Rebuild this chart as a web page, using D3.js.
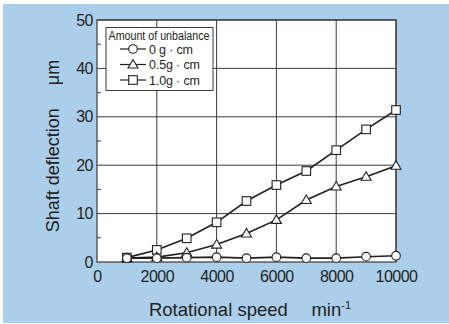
<!DOCTYPE html>
<html><head><meta charset="utf-8">
<script src="https://cdn.jsdelivr.net/npm/d3@7"></script>
<style>body{margin:0;background:#fff}svg{display:block}text{font-family:"Liberation Sans",Arial,sans-serif;fill:#231f20}</style>
</head><body>
<svg id="c" width="449" height="324"></svg>
<script>
const speeds = [1000,2000,3000,4000,5000,6000,7000,8000,9000,10000];
const s0 = [0.8,0.8,0.9,1.0,0.8,1.0,0.8,0.8,1.1,1.3];
const s05 = [0.8,1.0,1.9,3.6,5.9,8.7,12.8,15.6,17.6,19.9];
const s10 = [0.9,2.5,4.9,8.2,12.6,15.9,18.8,23.1,27.4,31.4];
const seriesNames = ["0 g \u00b7 cm","0.5g \u00b7 cm","1.0g \u00b7 cm"];
const seriesShapes = ["circle","triangle","square"];
const xTicks = [0,2000,4000,6000,8000,10000];
const yTicks = [0,10,20,30,40,50];
const yMinor = [5,15,25,35,45];

const svg = d3.select("#c");
svg.append("rect").attr("x",3).attr("y",4).attr("width",446).attr("height",319).attr("fill","#abcfeb");
const L=97,R=396,T=20,B=262;
const x = d3.scaleLinear().domain([0,10000]).range([L,R]);
const y = d3.scaleLinear().domain([0,50]).range([B,T]);
svg.append("rect").attr("x",L).attr("y",T).attr("width",R-L).attr("height",B-T).attr("fill","#fff");
const g = svg.append("g");
g.selectAll(".gx").data(xTicks.slice(1)).join("line").attr("x1",d=>x(d)).attr("x2",d=>x(d)).attr("y1",T).attr("y2",B).attr("stroke","#3a3a3a").attr("stroke-width",1);
g.selectAll(".gy").data(yTicks.slice(1)).join("line").attr("x1",L).attr("x2",R).attr("y1",d=>y(d)).attr("y2",d=>y(d)).attr("stroke","#3a3a3a").attr("stroke-width",1);
g.selectAll(".my").data(yMinor).join("line").attr("x1",L).attr("x2",L+4).attr("y1",d=>y(d)).attr("y2",d=>y(d)).attr("stroke","#3a3a3a");
g.append("rect").attr("x",L).attr("y",T).attr("width",R-L).attr("height",B-T).attr("fill","none").attr("stroke","#3a3a3a").attr("stroke-width",1.2);
const xa = svg.append("g").attr("transform",`translate(0,${B})`).call(d3.axisBottom(x).tickValues(xTicks).tickSize(0).tickPadding(9).tickFormat(d3.format("d")));
xa.select(".domain").remove();
xa.selectAll("text").style("font-size","16px").style("letter-spacing","-0.5px").attr("fill","#231f20");
const ya = svg.append("g").attr("transform",`translate(${L},0)`).call(d3.axisLeft(y).tickValues(yTicks).tickSize(0).tickPadding(4));
ya.select(".domain").remove();
ya.selectAll("text").style("font-size","16px").style("letter-spacing","-0.5px").attr("fill","#231f20");
svg.append("text").attr("x",250).attr("y",316).attr("text-anchor","middle").style("font-size","18.5px")
  .text("Rotational speed\u2003 min").append("tspan").attr("dy",-7).style("font-size","11px").text("-1");
svg.append("text").attr("transform","translate(59,146) rotate(-90)").attr("text-anchor","middle").style("font-size","18px").text("Shaft deflection\u2003 \u03bcm");

const line = d3.line().x((d,i)=>x(speeds[i])).y(d=>y(d));
const all = [s0,s05,s10];
function marker(sel, shape, cx, cy){
  if(shape==="circle") sel.append("circle").attr("cx",cx).attr("cy",cy).attr("r",4.3);
  else if(shape==="square") sel.append("rect").attr("x",cx-4.3).attr("y",cy-4.3).attr("width",8.6).attr("height",8.6);
  else sel.append("path").attr("d",`M${cx},${cy-5}L${cx+5},${cy+3.5}L${cx-5},${cy+3.5}Z`);
}
[2,1,0].forEach(k=>{
  svg.append("path").datum(all[k]).attr("d",line).attr("fill","none").attr("stroke","#231f20").attr("stroke-width",1.6);
});
[2,1,0].forEach(k=>{
  const mg = svg.append("g").attr("fill","#fff").attr("stroke","#231f20").attr("stroke-width",1.1);
  all[k].forEach((v,i)=>marker(mg, seriesShapes[k], x(speeds[i]), y(v)));
});
const lg = svg.append("g");
lg.append("rect").attr("x",106).attr("y",27.5).attr("width",107).attr("height",63).attr("fill","#fff").attr("stroke","#3a3a3a").attr("stroke-width",1);
lg.append("text").attr("x",108.5).attr("y",40).style("font-size","12px").attr("textLength",101).attr("lengthAdjust","spacingAndGlyphs").text("Amount of unbalance");
const entryW = [44,51,51];
seriesNames.forEach((n,k)=>{
  const cy = 49+k*15.5;
  lg.append("line").attr("x1",120).attr("x2",146).attr("y1",cy).attr("y2",cy).attr("stroke","#231f20").attr("stroke-width",1.2);
  const mg = lg.append("g").attr("fill","#fff").attr("stroke","#231f20").attr("stroke-width",1.1);
  marker(mg, seriesShapes[k], 133, cy);
  lg.append("text").attr("x",149).attr("y",cy+4.5).style("font-size","12.5px").attr("textLength",entryW[k]).attr("lengthAdjust","spacing").text(n);
});
</script>
</body></html>
